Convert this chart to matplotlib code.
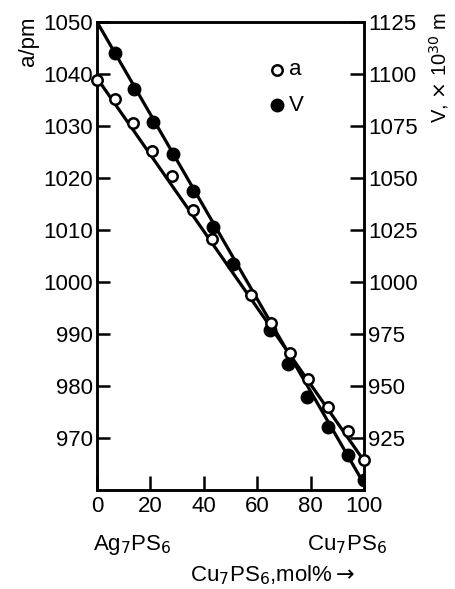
import numpy as np
import matplotlib
matplotlib.use('Agg')
from matplotlib import pyplot as plt

plt.rcParams['font.family'] = ['Liberation Sans Narrow', 'Liberation Sans', 'DejaVu Sans']

# lattice constant a (pm), left axis
x_a = [0, 6.7, 13.6, 20.5, 28.0, 36.1, 43.2, 57.6, 65.2, 72.3, 79.1, 86.6, 93.9, 100]
a_vals = [1038.9, 1035.1, 1030.5, 1025.1, 1020.4, 1013.8, 1008.3, 997.5, 992.1, 986.4,
          981.3, 975.9, 971.3, 965.8]
# cell volume V, right axis
x_v = [6.7, 14.0, 21.1, 28.6, 36.1, 43.6, 50.8, 64.8, 71.4, 78.5, 86.6, 94.1, 100]
v_vals = [1110.0, 1092.8, 1077.0, 1061.5, 1043.5, 1026.3, 1008.4, 977.1, 960.5, 944.5,
          930.2, 916.7, 904.6]
# straight lines drawn through the points
line_x = [0, 100]
line_a = [1039.2, 965.6]
line_v = [1125, 903]

a_ticks = [970, 980, 990, 1000, 1010, 1020, 1030, 1040, 1050]
v_ticks = [925, 950, 975, 1000, 1025, 1050, 1075, 1100, 1125]
x_ticks = [0, 20, 40, 60, 80, 100]

fig = plt.figure(figsize=(4.55, 5.89), dpi=100)
ax = fig.add_axes((0.213, 0.168, 0.587, 0.795))
ax2 = ax.twinx()

ylo, yhi = 960, 1050
ax.set_ylim(ylo, yhi)
ax2.set_ylim(1000 + (ylo - 1000) * 2.5, 1000 + (yhi - 1000) * 2.5)
ax.set_xlim(0, 100)

lw = 2.3
ax.plot(line_x, line_a, color='black', lw=lw, zorder=2)
ax2.plot(line_x, line_v, color='black', lw=lw, zorder=2)
ax2.plot(x_v, v_vals, 'o', color='black', ms=9, zorder=3)
ax.set_zorder(ax2.get_zorder() + 1)
ax.patch.set_visible(False)
ax.plot(x_a, a_vals, 'o', mfc='white', mec='black', mew=1.8, ms=7.5, zorder=4, clip_on=False)

for a_ in (ax, ax2):
    for s in a_.spines.values():
        s.set_linewidth(1.8)

fs = 16
ax.set_yticks(a_ticks)
ax.set_yticklabels([str(t) for t in a_ticks], fontsize=fs)
ax.set_xticks(x_ticks)
ax.set_xticklabels([str(t) for t in x_ticks], fontsize=fs)
ax2.set_yticks(v_ticks)
ax2.set_yticklabels([str(t) for t in v_ticks], fontsize=fs)
ax.tick_params(axis='y', direction='in', length=9, width=1.8, pad=3)
ax.tick_params(axis='x', direction='in', length=10, width=1.8, pad=4)
ax2.tick_params(axis='y', direction='in', length=10, width=1.8, pad=3)

# legend
ax.plot([67.5], [1040.8], 'o', mfc='white', mec='black', mew=1.8, ms=7.5)
ax.text(72, 1040.8, 'a', fontsize=fs, va='center')
ax2.plot([67.5], [1085], 'o', color='black', ms=9)
ax2.text(72, 1085, 'V', fontsize=fs, va='center')

fig.text(0.062, 0.93, 'a/pm', rotation=90, fontsize=fs, ha='center', va='center')
fig.text(0.965, 0.885, r'V, $\times$ 10$^{30}$ m', rotation=90, fontsize=14.5,
         ha='center', va='center')
fig.text(0.205, 0.075, r'Ag$_7$PS$_6$', fontsize=fs, ha='left', va='center')
fig.text(0.85, 0.075, r'Cu$_7$PS$_6$', fontsize=fs, ha='right', va='center')
fig.text(0.60, 0.024, r'Cu$_7$PS$_6$,mol%$\rightarrow$', fontsize=fs, ha='center', va='center')

fig.savefig('out.png', dpi=100)
